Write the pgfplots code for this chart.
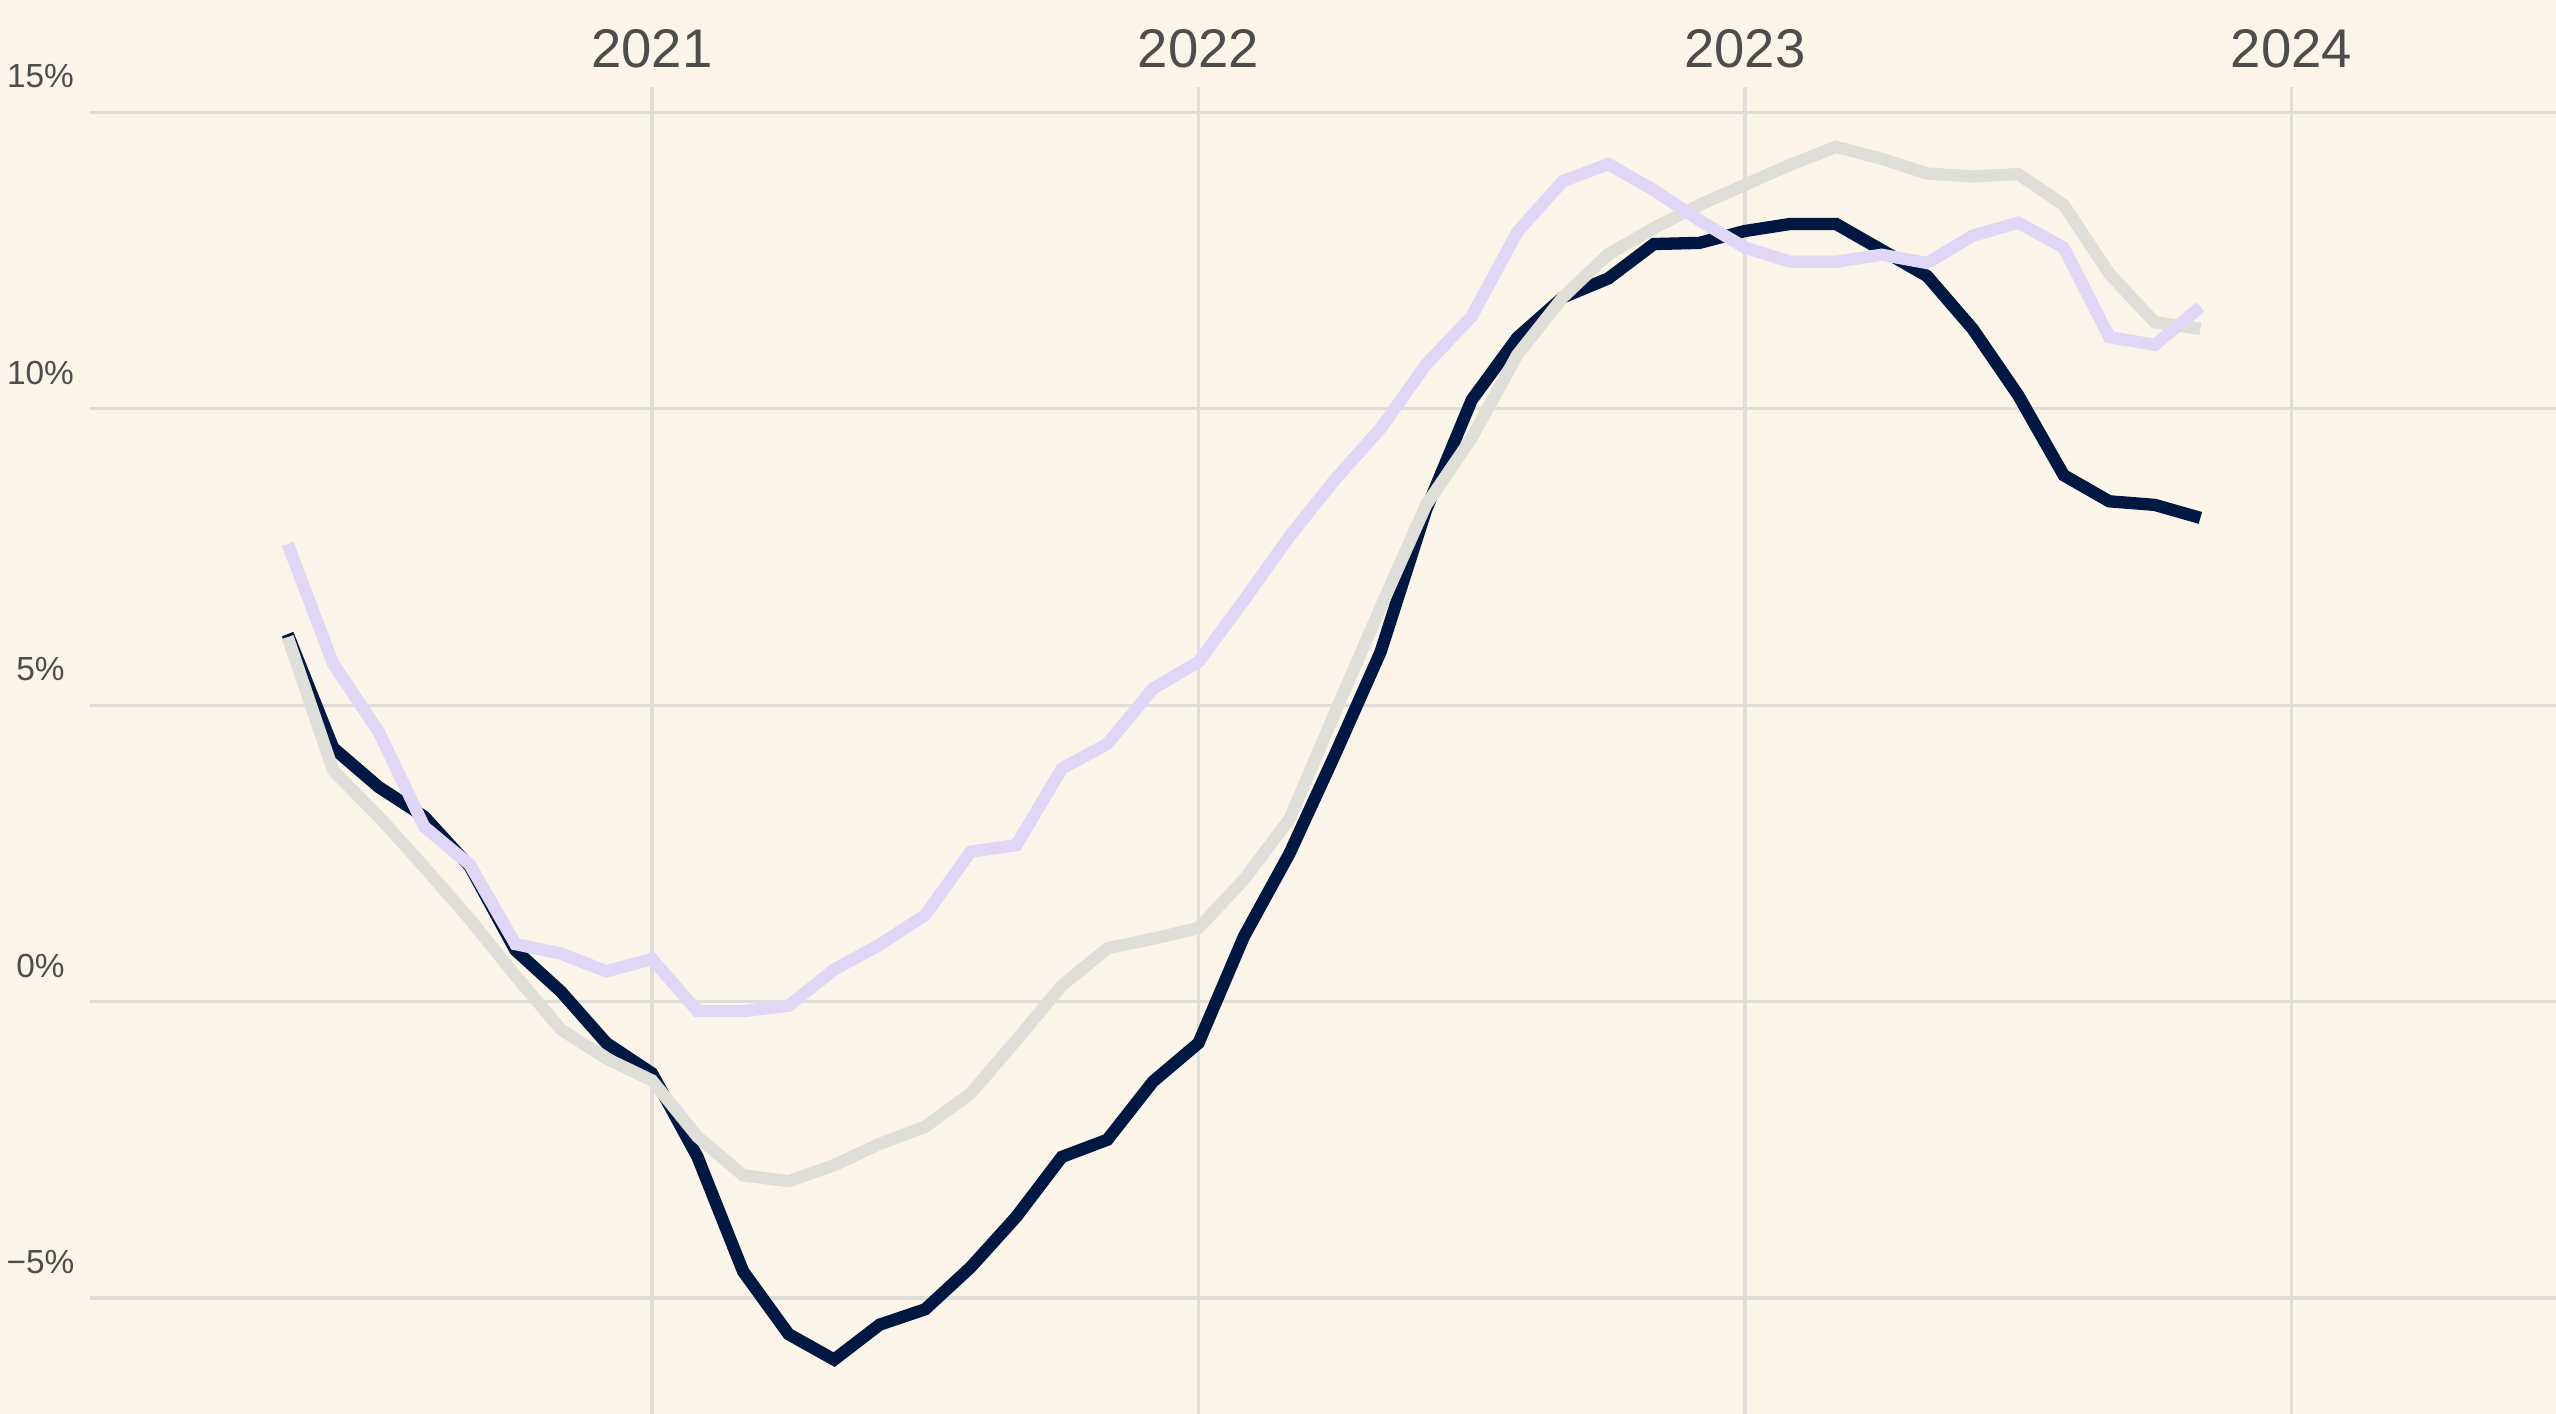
\documentclass[border=0pt]{standalone}
\usepackage{pgfplots}
\pgfplotsset{compat=1.18}
\usepackage{fontspec}
\setmainfont{Liberation Sans}
\definecolor{bgc}{RGB}{250,245,232}
\definecolor{gridc}{RGB}{223,221,216}
\definecolor{navy}{RGB}{1,24,66}
\definecolor{lav}{RGB}{223,215,245}
\definecolor{grayl}{RGB}{223,222,217}
\definecolor{txt}{RGB}{77,77,77}
\begin{document}
\begin{tikzpicture}
\fill[bgc] (0,0) rectangle (25.56cm,14.14cm);
\path[use as bounding box] (0,0) rectangle (25.56cm,14.14cm);
\begin{axis}[
  at={(0.9cm,0cm)}, anchor=south west,
  scale only axis, width=24.66cm, height=13.27cm,
  xmin=-12.34, xmax=41.81, ymin=-6.957, ymax=15.43,
  axis line style={draw=none}, tick style={draw=none}, major tick length=0pt,
  grid=major, grid style={color=gridc, line width=0.9pt},
  xtick={0,12,24,36}, xticklabels={2021,2022,2023,2024}, xticklabel pos=upper,
  ytick={-5,0,5,10,15}, yticklabels={−5\%,0\%,5\%,10\%,15\%},
  xticklabel style={anchor=center, yshift=0.38cm, text=txt, font=\fontsize{15.5}{18}\selectfont},
  yticklabel style={anchor=center, xshift=-0.495cm, yshift=0.36cm, text=txt, font=\fontsize{9.5}{11}\selectfont},
  every axis plot/.append style={line width=3.5pt, line join=miter, line cap=butt},
]
\addplot[navy, no markers] coordinates {
(-8,6.2) (-7,4.28) (-6,3.62) (-5,3.12) (-4,2.28) (-3,0.87) (-2,0.17) (-1,-0.70)
(0,-1.21) (1,-2.62) (2,-4.55) (3,-5.61) (4,-6.04) (5,-5.45) (6,-5.19) (7,-4.48)
(8,-3.63) (9,-2.62) (10,-2.33) (11,-1.35) (12,-0.70) (13,1.10) (14,2.50) (15,4.17)
(16,5.90) (17,8.3) (18,10.15) (19,11.2) (20,11.88) (21,12.2) (22,12.78) (23,12.8)
(24,13.0) (25,13.12) (26,13.12) (27,12.68) (28,12.24) (29,11.35) (30,10.23) (31,8.88)
(32,8.44) (33,8.38) (34,8.16)
};
\addplot[grayl, no markers] coordinates {
(-8,6.15) (-7,3.90) (-6,3.12) (-5,2.27) (-4,1.39) (-3,0.44) (-2,-0.47) (-1,-0.96)
(0,-1.33) (1,-2.28) (2,-2.93) (3,-3.03) (4,-2.76) (5,-2.40) (6,-2.11) (7,-1.55)
(8,-0.65) (9,0.27) (10,0.90) (11,1.06) (12,1.24) (13,2.06) (14,3.08) (15,4.88)
(16,6.65) (17,8.38) (18,9.51) (19,10.91) (20,11.88) (21,12.61) (22,13.05) (23,13.44)
(24,13.78) (25,14.12) (26,14.42) (27,14.22) (28,13.97) (29,13.92) (30,13.96) (31,13.44)
(32,12.28) (33,11.46) (34,11.35)
};
\addplot[lav, no markers] coordinates {
(-8,7.72) (-7,5.70) (-6,4.55) (-5,2.95) (-4,2.31) (-3,0.97) (-2,0.81) (-1,0.51)
(0,0.72) (1,-0.16) (2,-0.16) (3,-0.07) (4,0.54) (5,0.96) (6,1.46) (7,2.53)
(8,2.64) (9,3.93) (10,4.35) (11,5.28) (12,5.73) (13,6.77) (14,7.85) (15,8.81)
(16,9.67) (17,10.75) (18,11.56) (19,12.98) (20,13.84) (21,14.13) (22,13.69) (23,13.18)
(24,12.72) (25,12.48) (26,12.48) (27,12.60) (28,12.46) (29,12.92) (30,13.14) (31,12.72)
(32,11.21) (33,11.08) (34,11.72)
};
\end{axis}
\end{tikzpicture}
\end{document}
